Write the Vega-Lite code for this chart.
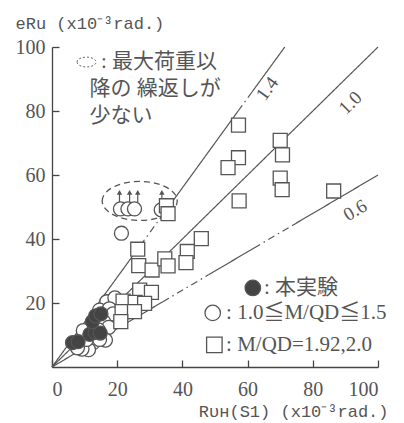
{
  "$schema": "https://vega.github.io/schema/vega-lite/v6.json",
  "width": 326,
  "height": 320,
  "autosize": {"type": "none"},
  "padding": {"left": 52, "top": 47, "right": 26, "bottom": 56},
  "background": "white",
  "config": {
    "view": {"stroke": null}
  },
  "resolve": {"axis": {"x": "independent", "y": "independent"}},
  "datasets": {
    "lines": [
      {"line": "1.4", "kind": "solid", "x": 0, "y": 0, "x2": 27.1, "y2": 38},
      {"line": "1.4", "kind": "chain", "x": 27.1, "y": 38, "x2": 34.3, "y2": 48},
      {"line": "1.4", "kind": "solid", "x": 34.3, "y": 48, "x2": 57.1, "y2": 80},
      {"line": "1.4", "kind": "chain", "x": 57.1, "y": 80, "x2": 61.4, "y2": 86},
      {"line": "1.4", "kind": "solid", "x": 61.4, "y": 86, "x2": 71.4, "y2": 100},
      {"line": "1.0", "kind": "solid", "x": 0, "y": 0, "x2": 100, "y2": 100},
      {"line": "0.6", "kind": "solid", "x": 0, "y": 0, "x2": 34, "y2": 20.4},
      {"line": "0.6", "kind": "chain", "x": 34, "y": 20.4, "x2": 48, "y2": 28.8},
      {"line": "0.6", "kind": "solid", "x": 48, "y": 28.8, "x2": 62, "y2": 37.2},
      {"line": "0.6", "kind": "chain", "x": 62, "y": 37.2, "x2": 74, "y2": 44.4},
      {"line": "0.6", "kind": "solid", "x": 74, "y": 44.4, "x2": 100, "y2": 60}
    ],
    "pts": [
      {"group": "1.0≦M/QD≦1.5", "x": 16.8, "y": 20.4},
      {"group": "1.0≦M/QD≦1.5", "x": 19.3, "y": 21.6},
      {"group": "1.0≦M/QD≦1.5", "x": 14.6, "y": 17.8},
      {"group": "1.0≦M/QD≦1.5", "x": 17.6, "y": 18.2},
      {"group": "1.0≦M/QD≦1.5", "x": 18.7, "y": 16.6},
      {"group": "1.0≦M/QD≦1.5", "x": 15.8, "y": 14.2},
      {"group": "1.0≦M/QD≦1.5", "x": 17.4, "y": 12.4},
      {"group": "1.0≦M/QD≦1.5", "x": 14.2, "y": 11.6},
      {"group": "1.0≦M/QD≦1.5", "x": 16.4, "y": 8.4},
      {"group": "1.0≦M/QD≦1.5", "x": 12.6, "y": 7.6},
      {"group": "1.0≦M/QD≦1.5", "x": 11.2, "y": 5.4},
      {"group": "1.0≦M/QD≦1.5", "x": 9.2, "y": 5.6},
      {"group": "1.0≦M/QD≦1.5", "x": 10.6, "y": 8.6},
      {"group": "1.0≦M/QD≦1.5", "x": 9.6, "y": 11.4},
      {"group": "1.0≦M/QD≦1.5", "x": 7.8, "y": 6.0},
      {"group": "1.0≦M/QD≦1.5", "x": 14.6, "y": 8.6},
      {"group": "1.0≦M/QD≦1.5", "x": 21.3, "y": 41.8},
      {"group": "1.0≦M/QD≦1.5", "x": 21.0, "y": 49.4},
      {"group": "1.0≦M/QD≦1.5", "x": 23.3, "y": 49.4},
      {"group": "1.0≦M/QD≦1.5", "x": 25.3, "y": 49.4},
      {"group": "1.0≦M/QD≦1.5", "x": 33.5, "y": 49.1},
      {"group": "M/QD=1.92,2.0", "x": 57.2, "y": 75.6},
      {"group": "M/QD=1.92,2.0", "x": 70.0, "y": 70.8},
      {"group": "M/QD=1.92,2.0", "x": 70.7, "y": 66.3},
      {"group": "M/QD=1.92,2.0", "x": 57.2, "y": 65.4},
      {"group": "M/QD=1.92,2.0", "x": 54.0, "y": 62.3},
      {"group": "M/QD=1.92,2.0", "x": 70.0, "y": 59.0},
      {"group": "M/QD=1.92,2.0", "x": 70.6, "y": 55.4},
      {"group": "M/QD=1.92,2.0", "x": 57.4, "y": 51.9},
      {"group": "M/QD=1.92,2.0", "x": 86.4, "y": 55.0},
      {"group": "M/QD=1.92,2.0", "x": 45.8, "y": 40.1},
      {"group": "M/QD=1.92,2.0", "x": 41.5, "y": 36.1},
      {"group": "M/QD=1.92,2.0", "x": 41.1, "y": 32.6},
      {"group": "M/QD=1.92,2.0", "x": 35.1, "y": 50.4},
      {"group": "M/QD=1.92,2.0", "x": 35.6, "y": 47.9},
      {"group": "M/QD=1.92,2.0", "x": 26.3, "y": 36.8},
      {"group": "M/QD=1.92,2.0", "x": 26.6, "y": 31.7},
      {"group": "M/QD=1.92,2.0", "x": 30.7, "y": 30.3},
      {"group": "M/QD=1.92,2.0", "x": 34.6, "y": 33.8},
      {"group": "M/QD=1.92,2.0", "x": 35.6, "y": 31.6},
      {"group": "M/QD=1.92,2.0", "x": 26.9, "y": 24.0},
      {"group": "M/QD=1.92,2.0", "x": 30.5, "y": 23.3},
      {"group": "M/QD=1.92,2.0", "x": 21.8, "y": 20.6},
      {"group": "M/QD=1.92,2.0", "x": 25.5, "y": 20.2},
      {"group": "M/QD=1.92,2.0", "x": 28.4, "y": 19.9},
      {"group": "M/QD=1.92,2.0", "x": 21.5, "y": 17.3},
      {"group": "M/QD=1.92,2.0", "x": 25.3, "y": 17.3},
      {"group": "M/QD=1.92,2.0", "x": 21.1, "y": 14.2},
      {"group": "本実験", "x": 6.3, "y": 7.6},
      {"group": "本実験", "x": 8.0, "y": 7.9},
      {"group": "本実験", "x": 11.6, "y": 10.2},
      {"group": "本実験", "x": 13.2, "y": 10.8},
      {"group": "本実験", "x": 14.8, "y": 10.6},
      {"group": "本実験", "x": 12.4, "y": 14.2},
      {"group": "本実験", "x": 13.4, "y": 16.0},
      {"group": "本実験", "x": 15.0, "y": 16.6}
    ],
    "arrows": [
      {"x": 20.7, "y": 51.4, "y2": 54.6},
      {"x": 23.8, "y": 51.4, "y2": 54.6},
      {"x": 26.3, "y": 51.4, "y2": 54.6},
      {"x": 33.7, "y": 52.6, "y2": 54.6}
    ],
    "arrowTips": [
      {"x": 20.7, "y": 54.6},
      {"x": 23.8, "y": 54.6},
      {"x": 26.3, "y": 54.6},
      {"x": 33.7, "y": 54.6}
    ],
    "ellipses": [
      {"what": "group", "x": 26.9, "y": 51.9},
      {"what": "note", "x": 10.6, "y": 95.3}
    ],
    "notes": [
      {"x": 15.0, "y": 95.3, "text": ": 最大荷重以"},
      {"x": 11.5, "y": 87.0, "text": "降の 繰返しが"},
      {"x": 11.5, "y": 78.5, "text": "少ない"}
    ],
    "key": [
      {"group": "本実験", "x": 61.6, "y": 24.7},
      {"group": "1.0≦M/QD≦1.5", "x": 49.3, "y": 16.9},
      {"group": "M/QD=1.92,2.0", "x": 49.8, "y": 6.9}
    ],
    "keyText": [
      {"x": 65.0, "y": 24.7, "label": ": 本実験"},
      {"x": 53.4, "y": 16.9, "label": ": 1.0≦M/QD≦1.5"},
      {"x": 53.4, "y": 6.9, "label": ": M/QD=1.92,2.0"}
    ],
    "lineLabels": [
      {"line": "1.4", "x": 66, "y": 87},
      {"line": "1.0", "x": 91.5, "y": 82.5},
      {"line": "0.6", "x": 93, "y": 49}
    ]
  },
  "encoding": {
    "x": {
      "field": "x", "type": "quantitative",
      "scale": {"domain": [0, 100], "nice": false},
      "axis": null
    },
    "y": {
      "field": "y", "type": "quantitative",
      "scale": {"domain": [0, 100], "nice": false},
      "axis": null
    }
  },
  "layer": [
    {
      "data": {"name": "lines"},
      "mark": {"type": "rule", "color": "#555", "strokeWidth": 1.2},
      "encoding": {
        "x": {
          "field": "x", "type": "quantitative",
          "scale": {"domain": [0, 100], "nice": false},
          "title": "Rᴜʜ(S1) (x10⁻³rad.)",
          "axis": {
            "values": [0, 20, 40, 60, 80, 100],
            "grid": false,
            "domainColor": "#444", "domainWidth": 1.3,
            "labelFont": "Liberation Serif", "labelFontSize": 20, "labelColor": "#555",
            "titleFont": "Liberation Mono", "titleFontSize": 17, "titleFontWeight": "normal", "titleColor": "#555",
            "tickSize": -7, "tickColor": "#444", "tickWidth": 1.3,
            "labelPadding": 19,
            "titleX": 336, "titleY": 44,
            "titleAlign": "right", "titleBaseline": "middle"
          }
        },
        "y": {
          "field": "y", "type": "quantitative",
          "scale": {"domain": [0, 100], "nice": false},
          "title": "eRu (x10⁻³rad.)",
          "axis": {
            "values": [20, 40, 60, 80, 100],
            "grid": false,
            "domainColor": "#444", "domainWidth": 1.3,
            "labelFont": "Liberation Serif", "labelFontSize": 20, "labelColor": "#555",
            "titleFont": "Liberation Mono", "titleFontSize": 17, "titleFontWeight": "normal", "titleColor": "#555",
            "tickSize": -7, "tickColor": "#444", "tickWidth": 1.3,
            "labelPadding": 14,
            "titleAngle": 0, "titleX": -37, "titleY": -24,
            "titleAlign": "left", "titleBaseline": "middle"
          }
        },
        "x2": {"field": "x2"},
        "y2": {"field": "y2"},
        "strokeDash": {
          "field": "kind", "type": "nominal",
          "scale": {"domain": ["solid", "chain"], "range": [[1, 0], [7, 4, 1.5, 4]]},
          "legend": null
        }
      }
    },
    {
      "data": {"name": "ellipses"},
      "transform": [{"filter": "datum.what === 'group'"}],
      "mark": {"type": "point", "shape": "M-1,0A1,0.52,0,1,1,1,0A1,0.52,0,1,1,-1,0Z", "size": 5625, "filled": false, "stroke": "#555", "strokeWidth": 1.3, "strokeDash": [6, 4], "opacity": 1}
    },
    {
      "data": {"name": "ellipses"},
      "transform": [{"filter": "datum.what === 'note'"}],
      "mark": {"type": "point", "shape": "M-1,0A1,0.52,0,1,1,1,0A1,0.52,0,1,1,-1,0Z", "size": 361, "filled": false, "stroke": "#666", "strokeWidth": 1, "strokeDash": [2, 2], "opacity": 1}
    },
    {
      "data": {"name": "arrows"},
      "mark": {"type": "rule", "color": "#555", "strokeWidth": 1.2},
      "encoding": {
        "y2": {"field": "y2"}
      }
    },
    {
      "data": {"name": "arrowTips"},
      "mark": {"type": "point", "shape": "triangle-up", "size": 30, "filled": true, "color": "#555", "opacity": 1}
    },
    {
      "data": {"name": "pts"},
      "mark": {"type": "point", "size": 195, "stroke": "#555", "strokeWidth": 1.3, "opacity": 1},
      "encoding": {
        "shape": {
          "field": "group", "type": "nominal",
          "scale": {"domain": ["本実験", "1.0≦M/QD≦1.5", "M/QD=1.92,2.0"], "range": ["circle", "circle", "square"]},
          "legend": null
        },
        "fill": {
          "field": "group", "type": "nominal",
          "scale": {"domain": ["本実験", "1.0≦M/QD≦1.5", "M/QD=1.92,2.0"], "range": ["#444", "white", "white"]},
          "legend": null
        }
      }
    },
    {
      "data": {"name": "key"},
      "mark": {"type": "point", "size": 240, "stroke": "#555", "strokeWidth": 1.3, "opacity": 1},
      "encoding": {
        "shape": {"field": "group", "type": "nominal", "legend": null},
        "fill": {"field": "group", "type": "nominal", "legend": null}
      }
    },
    {
      "data": {"name": "keyText"},
      "mark": {"type": "text", "align": "left", "baseline": "middle", "font": "Liberation Serif, Noto Sans CJK JP", "fontSize": 21, "color": "#555"},
      "encoding": {
        "text": {"field": "label"}
      }
    },
    {
      "data": {"name": "notes"},
      "mark": {"type": "text", "align": "left", "baseline": "middle", "font": "Liberation Serif, Noto Sans CJK JP", "fontSize": 21, "color": "#555"},
      "encoding": {
        "text": {"field": "text"}
      }
    },
    {
      "data": {"name": "lineLabels"},
      "transform": [{"filter": "datum.line === '1.4'"}],
      "mark": {"type": "text", "align": "center", "baseline": "middle", "angle": -54, "font": "Liberation Serif", "fontSize": 19, "color": "#555"},
      "encoding": {"text": {"field": "line"}}
    },
    {
      "data": {"name": "lineLabels"},
      "transform": [{"filter": "datum.line === '1.0'"}],
      "mark": {"type": "text", "align": "center", "baseline": "middle", "angle": -44.5, "font": "Liberation Serif", "fontSize": 19, "color": "#555"},
      "encoding": {"text": {"field": "line"}}
    },
    {
      "data": {"name": "lineLabels"},
      "transform": [{"filter": "datum.line === '0.6'"}],
      "mark": {"type": "text", "align": "center", "baseline": "middle", "angle": -30.5, "font": "Liberation Serif", "fontSize": 19, "color": "#555"},
      "encoding": {"text": {"field": "line"}}
    }
  ]
}
